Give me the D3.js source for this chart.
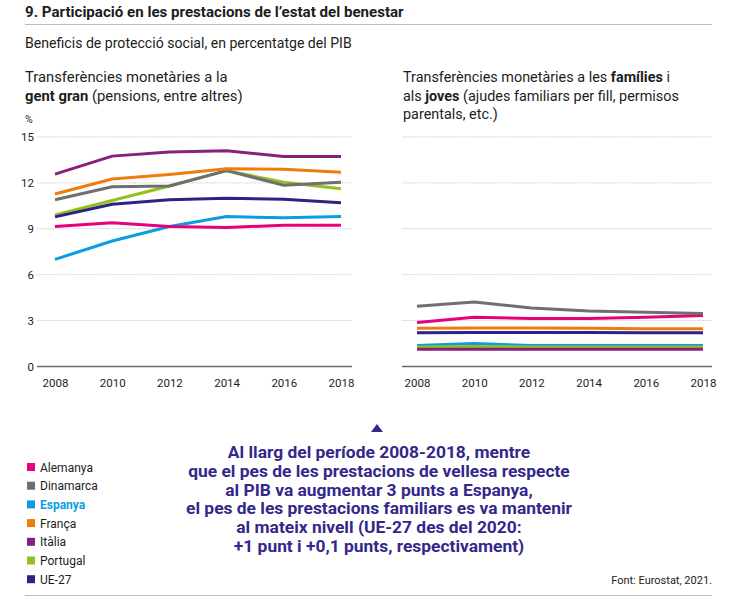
<!DOCTYPE html>
<html>
<head>
<meta charset="utf-8">
<script src="https://cdn.jsdelivr.net/npm/d3@7"></script>
<style>
  body { margin: 0; background: #fff; }
  svg text { font-family: Roboto, "Noto Sans", sans-serif; }
</style>
</head>
<body>
<div id="chart"></div>
<script>
const years = [2008, 2010, 2012, 2014, 2016, 2018];
const countries = ['Alemanya', 'Dinamarca', 'Espanya', 'França', 'Itàlia', 'Portugal', 'UE-27'];
const colors = ['#e5007d', '#6f6e70', '#0a9ee0', '#ee7d0c', '#87207f', '#93c01f', '#2e2382'];
const yTicks = [0, 3, 6, 9, 12, 15];

// gent gran (pensions)
const pensions = [
  [9.15, 9.4, 9.15, 9.08, 9.24, 9.24],   // Alemanya
  [10.9, 11.75, 11.8, 12.8, 11.85, 12.05], // Dinamarca
  [7.0, 8.2, 9.15, 9.8, 9.72, 9.8],      // Espanya
  [11.27, 12.25, 12.55, 12.92, 12.9, 12.7], // França
  [12.57, 13.75, 14.02, 14.1, 13.72, 13.72], // Itàlia
  [9.9, 10.85, 11.8, 12.8, 12.05, 11.62],  // Portugal
  [9.78, 10.6, 10.9, 11.0, 10.93, 10.7]   // UE-27
];

// famílies i joves
const families = [
  [2.88, 3.22, 3.14, 3.14, 3.22, 3.33],
  [3.94, 4.22, 3.83, 3.63, 3.55, 3.46],
  [1.38, 1.5, 1.38, 1.38, 1.38, 1.38],
  [2.5, 2.52, 2.52, 2.5, 2.46, 2.46],
  [1.12, 1.12, 1.13, 1.12, 1.12, 1.12],
  [1.27, 1.3, 1.28, 1.28, 1.27, 1.27],
  [2.2, 2.22, 2.22, 2.22, 2.2, 2.2]
];

const drawOrder = [2, 0, 5, 6, 1, 3, 4];
const W = 732, H = 600;
const svg = d3.select('#chart').append('svg').attr('width', W).attr('height', H);

// header
svg.append('text').attr('x', 25).attr('y', 17)
  .attr('font-size', 15.1).attr('font-weight', 700).attr('fill', '#1d1d1b')
  .text('9. Participació en les prestacions de l’estat del benestar');
svg.append('line').attr('x1', 25).attr('x2', 712).attr('y1', 24.5).attr('y2', 24.5)
  .attr('stroke', '#bdbdbd').attr('stroke-width', 1);
svg.append('text').attr('x', 25).attr('y', 48)
  .attr('font-size', 14.1).attr('fill', '#1d1d1b')
  .text('Beneficis de protecció social, en percentatge del PIB');

function titleLines(x, lines, size) {
  lines.forEach((parts, i) => {
    const t = svg.append('text').attr('x', x).attr('y', 82 + i * 18.5)
      .attr('font-size', size).attr('fill', '#1d1d1b');
    parts.forEach(p => t.append('tspan').attr('font-weight', p[1] ? 700 : 400).text(p[0]));
  });
}
titleLines(25, [
  [['Transferències monetàries a la', false]],
  [['gent gran', true], [' (pensions, entre altres)', false]]
], 14.8);
titleLines(403, [
  [['Transferències monetàries a les ', false], ['famílies', true], [' i', false]],
  [['als ', false], ['joves', true], [' (ajudes familiars per fill, permisos', false]],
  [['parentals, etc.)', false]]
], 14.4);

const y = d3.scaleLinear().domain([0, 15]).range([366.5, 137]);

function panel(x0, x1, gx0, gx1, series, showY) {
  const x = d3.scaleLinear().domain([2008, 2018]).range([x0, x1]);
  const g = svg.append('g');
  g.selectAll('.grid').data(yTicks.filter(d => d > 0)).join('line')
    .attr('x1', gx0).attr('x2', gx1)
    .attr('y1', d => y(d)).attr('y2', d => y(d))
    .attr('stroke', '#cfcfcf').attr('stroke-width', 1).attr('stroke-dasharray', '1.5,1');
  g.append('line').attr('x1', gx0).attr('x2', gx1).attr('y1', y(0)).attr('y2', y(0))
    .attr('stroke', '#6b6b6b').attr('stroke-width', 1.3);
  if (showY) {
    g.selectAll('.yl').data(yTicks).join('text')
      .attr('x', 34).attr('y', d => y(d) + 4).attr('text-anchor', 'end')
      .attr('font-size', 11.5).attr('fill', '#1d1d1b').text(d => d);
    g.append('text').attr('x', 25).attr('y', 123).attr('font-size', 10.5)
      .attr('fill', '#1d1d1b').text('%');
  }
  const xAxis = d3.axisBottom(x).tickValues(years).tickFormat(d3.format('d')).tickSize(0).tickPadding(10);
  const ax = g.append('g').attr('transform', `translate(0,${y(0) + 2})`).call(xAxis);
  ax.select('.domain').remove();
  ax.selectAll('text').attr('font-size', 11.5).attr('fill', '#1d1d1b')
    .attr('font-family', 'Roboto, sans-serif');
  const line = d3.line().x((d, i) => x(years[i])).y(d => y(d));
  drawOrder.forEach(ci => {
    g.append('path').datum(series[ci]).attr('d', line)
      .attr('fill', 'none').attr('stroke', colors[ci]).attr('stroke-width', 3)
      .attr('stroke-linejoin', 'round');
  });
}
panel(55, 341, 37, 352, pensions, true);
panel(417, 703, 402, 712, families, false);

// legend
const lg = svg.append('g');
countries.forEach((c, i) => {
  const yy = 467 + i * 18.7;
  lg.append('rect').attr('x', 27).attr('y', yy - 4).attr('width', 8).attr('height', 8).attr('fill', colors[i]);
  lg.append('text').attr('x', 40).attr('y', yy + 4.5).attr('font-size', 12)
    .attr('fill', c === 'Espanya' ? colors[i] : '#1d1d1b')
    .attr('font-weight', c === 'Espanya' ? 700 : 400).text(c);
});

// annotation
const noteColor = '#33288a';
svg.append('path').attr('d', 'M371,432 L383,432 L377,424 Z').attr('fill', noteColor);
const note = [
  'Al llarg del període 2008-2018, mentre',
  'que el pes de les prestacions de vellesa respecte',
  'al PIB va augmentar 3 punts a Espanya,',
  'el pes de les prestacions familiars es va mantenir',
  'al mateix nivell (UE-27 des del 2020:',
  '+1 punt i +0,1 punts, respectivament)'
];
svg.selectAll('.note').data(note).join('text')
  .attr('x', 379).attr('y', (d, i) => 458 + i * 18.8)
  .attr('text-anchor', 'middle').attr('font-size', 17.4).attr('font-weight', 700)
  .attr('fill', noteColor).text(d => d);

svg.append('text').attr('x', 712).attr('y', 584).attr('text-anchor', 'end')
  .attr('font-size', 11).attr('fill', '#1d1d1b').text('Font: Eurostat, 2021.');
svg.append('line').attr('x1', 25).attr('x2', 712).attr('y1', 595.5).attr('y2', 595.5)
  .attr('stroke', '#bdbdbd').attr('stroke-width', 1);
</script>
</body>
</html>
